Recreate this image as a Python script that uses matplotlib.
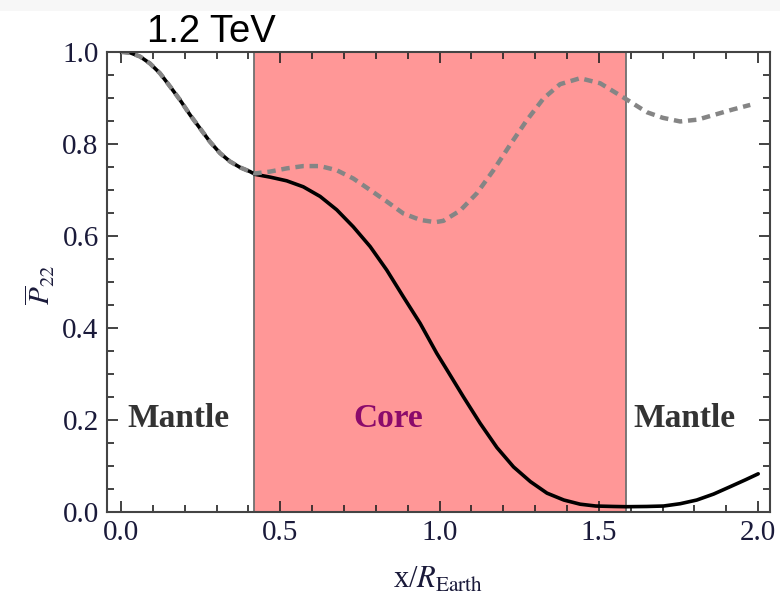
import matplotlib
matplotlib.use("Agg")
import matplotlib.pyplot as plt
from matplotlib.patches import Rectangle
from matplotlib.ticker import MultipleLocator

# ---- data ----
x_solid = [0.0, 0.028, 0.060, 0.091, 0.122, 0.154, 0.185, 0.217, 0.248, 0.279,
           0.311, 0.342, 0.374, 0.405, 0.421, 0.468, 0.520, 0.572, 0.625, 0.677,
           0.729, 0.782, 0.834, 0.886, 0.939, 0.991, 1.023, 1.075, 1.127, 1.18,
           1.232, 1.285, 1.337, 1.39, 1.441, 1.49, 1.546, 1.585, 1.65, 1.703,
           1.755, 1.807, 1.86, 1.912, 1.96, 2.0]
p_solid = [1.0, 0.9985, 0.990, 0.975, 0.954, 0.925, 0.896, 0.863, 0.834, 0.805,
           0.780, 0.762, 0.749, 0.740, 0.734, 0.728, 0.720, 0.707, 0.686, 0.657,
           0.620, 0.577, 0.526, 0.468, 0.410, 0.345, 0.309, 0.250, 0.193, 0.140,
           0.098, 0.066, 0.041, 0.026, 0.017, 0.013, 0.012, 0.0115, 0.012, 0.013,
           0.018, 0.026, 0.039, 0.055, 0.070, 0.083]

x_dashed = [0.0, 0.028, 0.060, 0.091, 0.122, 0.154, 0.185, 0.217, 0.248, 0.279,
            0.311, 0.342, 0.374, 0.405, 0.421, 0.468, 0.520, 0.572, 0.625, 0.677,
            0.729, 0.782, 0.834, 0.886, 0.939, 0.986, 1.012, 1.064, 1.117, 1.169,
            1.221, 1.274, 1.326, 1.378, 1.441, 1.504, 1.556, 1.582, 1.630, 1.651,
            1.70, 1.755, 1.81, 1.860, 1.92, 1.975]
p_dashed = [1.0, 0.9985, 0.990, 0.975, 0.954, 0.925, 0.896, 0.863, 0.834, 0.805,
            0.780, 0.762, 0.749, 0.740, 0.736, 0.740, 0.747, 0.752, 0.752, 0.743,
            0.725, 0.700, 0.675, 0.649, 0.635, 0.630, 0.633, 0.655, 0.693, 0.743,
            0.798, 0.852, 0.899, 0.930, 0.943, 0.932, 0.910, 0.899, 0.878, 0.869,
            0.857, 0.849, 0.853, 0.863, 0.875, 0.885]

core_range = [0.418, 1.585]
region_labels = ["Mantle", "Core", "Mantle"]
region_label_x = [0.18, 0.838, 1.768]
region_label_colors = ["#333333", "#8B0A6B", "#333333"]
title_text = "1.2 TeV"

plt.rcParams['mathtext.fontset'] = 'stix'
plt.rcParams['font.family'] = ['Liberation Serif', 'DejaVu Serif']

fig = plt.figure(figsize=(7.8, 5.96), dpi=100)
fig.patches.append(Rectangle((0, 1 - 11 / 596), 1, 11 / 596, transform=fig.transFigure,
                             facecolor="#f7f7f7", edgecolor="none", zorder=0))
ax = fig.add_axes([107 / 780, 1 - 512 / 596, (770 - 107) / 780, (512 - 52) / 596])

ax.axvspan(core_range[0], core_range[1], facecolor="#ff9797", edgecolor="none", zorder=1)
for xv in core_range:
    ax.axvline(xv, color="#707070", lw=1.3, zorder=2)

ax.plot(x_solid, p_solid, color="black", lw=2.6, zorder=3, solid_capstyle="round",
        solid_joinstyle="round")
ln, = ax.plot(x_dashed, p_dashed, color="#858585", lw=3.2, zorder=4)
ln.set_dashes((1.9, 1.3))

ax.set_xlim(-0.044, 2.037)
ax.set_ylim(0, 1.0)
ax.xaxis.set_minor_locator(MultipleLocator(0.1))
ax.yaxis.set_minor_locator(MultipleLocator(0.05))
ax.set_xticks([0, 0.5, 1.0, 1.5, 2.0])
ax.set_xticklabels(["0.0", "0.5", "1.0", "1.5", "2.0"])
ax.set_yticks([0, 0.2, 0.4, 0.6, 0.8, 1.0])
ax.set_yticklabels(["0.0", "0.2", "0.4", "0.6", "0.8", "1.0"])

ax.tick_params(which="both", direction="in", top=True, right=True, color="#222222",
               width=1.2, labelsize=21, labelcolor="#1a1a3a")
ax.tick_params(which="major", length=8, pad=6)
ax.tick_params(which="minor", length=5)
for sp in ax.spines.values():
    sp.set_color("#444444")
    sp.set_linewidth(1.5)
    sp.set_zorder(5)

for lab, xl, col in zip(region_labels, region_label_x, region_label_colors):
    ax.text(xl, 0.185, lab, ha="center", va="baseline", fontsize=24,
            fontweight="bold", color=col, zorder=6)

fig.text(147 / 780, 1 - 42 / 596, title_text, ha="left", va="baseline",
         fontsize=27.5, family="Liberation Sans", color="black")

fig.text(438 / 780, 1 - 588 / 596, r"x/$R_{\mathrm{Earth}}$", ha="center",
         va="baseline", fontsize=22, color="#1a1a3a")
fig.text(40 / 780, 1 - 285 / 596, r"$\overline{P}_{22}$", ha="center", va="center",
         rotation=90, fontsize=21, color="#1a1a3a")

fig.savefig("out.png", dpi=100)
